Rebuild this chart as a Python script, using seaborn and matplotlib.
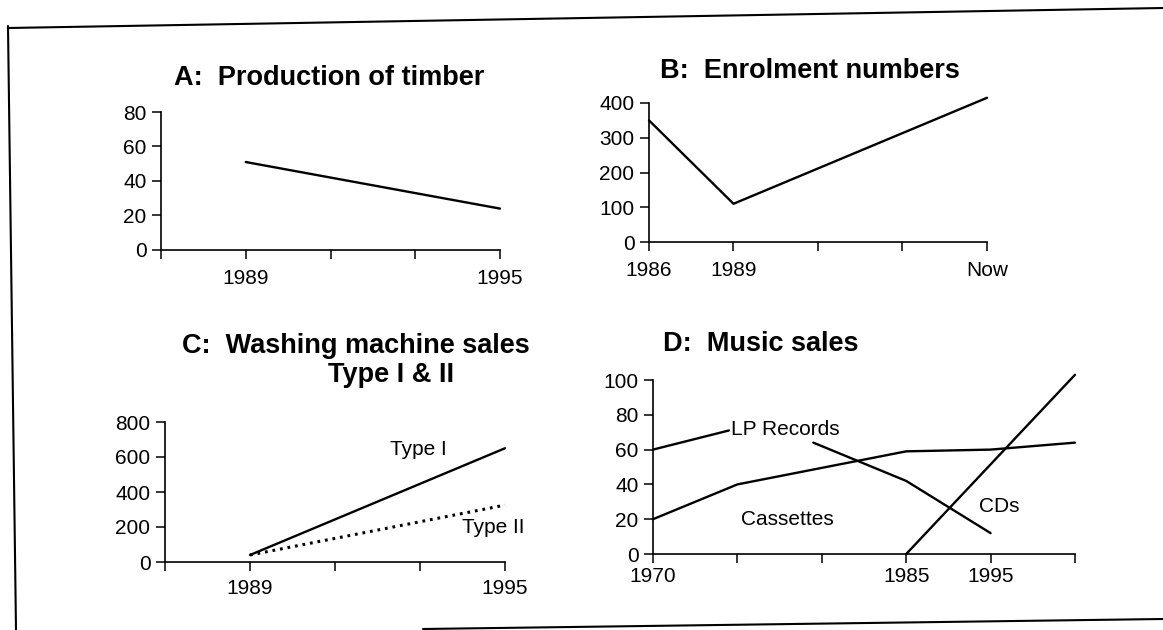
import matplotlib
matplotlib.use("Agg")
import matplotlib.pyplot as plt
import seaborn as sns
from matplotlib.lines import Line2D

# ---------------- data ----------------
# A: Production of timber
a_pos = [1, 4]
a_timber = [51, 24]
a_xticklabels = ["", "1989", "", "", "1995"]
a_yticks = [0, 20, 40, 60, 80]

# B: Enrolment numbers
b_pos = [0, 1, 4]
b_enrol = [350, 110, 415]
b_xticklabels = ["1986", "1989", "", "", "Now"]
b_yticks = [0, 100, 200, 300, 400]

# C: Washing machine sales
c_pos = [1, 4]
c_type1 = [40, 650]
c_type2 = [40, 325]
c_xticklabels = ["", "1989", "", "", "1995"]
c_yticks = [0, 200, 400, 600, 800]

# D: Music sales
d_lp_pos_a = [0, 0.9]
d_lp_a = [60, 71]
d_lp_pos_b = [1.9, 3, 4]
d_lp_b = [64, 42, 12]
d_cas_pos = [0, 1, 2, 3, 4, 5]
d_cassettes = [20, 40, 49.5, 59, 60, 64]
d_cd_pos = [3, 5]
d_cds = [0, 103]
d_xticklabels = ["1970", "", "", "1985", "1995", ""]
d_yticks = [0, 20, 40, 60, 80, 100]

# ---------------- style ----------------
sns.set_style("ticks")
plt.rcParams['font.family'] = ['Liberation Sans', 'DejaVu Sans']
plt.rcParams['text.color'] = 'black'
plt.rcParams['axes.labelcolor'] = 'black'
plt.rcParams['xtick.color'] = 'black'
plt.rcParams['ytick.color'] = 'black'

W, H = 1163, 630
fig = plt.figure(figsize=(W / 100, H / 100), dpi=100)

FS = 15      # regular text
TFS = 19.5   # titles


def rect(x0, y_top, x1, y_bot):
    return [x0 / W, 1 - y_bot / H, (x1 - x0) / W, (y_bot - y_top) / H]


def fx(x, y):
    return x / W, 1 - y / H


def style(ax, xlabels, yticks, xpad):
    n = len(xlabels) - 1
    ax.set_xlim(0, n)
    ax.set_ylim(0, yticks[-1])
    ax.set_xticks(range(n + 1))
    ax.set_xticklabels(xlabels)
    ax.set_yticks(yticks)
    ax.set_xlabel("")
    ax.set_ylabel("")
    for s in ["top", "right"]:
        ax.spines[s].set_visible(False)
    for s in ["left", "bottom"]:
        ax.spines[s].set_linewidth(1.2)
        ax.spines[s].set_color("black")
    ax.tick_params(direction="out", length=6.5, width=1.1, labelsize=FS,
                   colors="black", labelcolor="black")
    ax.tick_params(axis="x", pad=xpad)
    ax.tick_params(axis="y", pad=4)
    ax.patch.set_alpha(0)


LW = 1.7
kw = dict(color="black", linewidth=LW, clip_on=False)

# A
axA = fig.add_axes(rect(161, 112, 500, 250))
sns.lineplot(x=a_pos, y=a_timber, ax=axA, **kw)
style(axA, a_xticklabels, a_yticks, 7)

# B
axB = fig.add_axes(rect(649, 103, 987, 242))
sns.lineplot(x=b_pos, y=b_enrol, ax=axB, **kw)
style(axB, b_xticklabels, b_yticks, 7)

# C
axC = fig.add_axes(rect(165, 422, 505, 562))
sns.lineplot(x=c_pos, y=c_type1, ax=axC, **kw)
sns.lineplot(x=c_pos, y=c_type2, ax=axC, color="black", linewidth=2.2,
             linestyle=(0, (0.9, 1.6)), clip_on=False)
style(axC, c_xticklabels, c_yticks, 6)
axC.text(2.65, 611, "Type I", fontsize=FS, ha="left", va="baseline",
         color="black")
axC.text(3.5, 166, "Type II", fontsize=FS, ha="left", va="baseline",
         color="black")

# D
axD = fig.add_axes(rect(653, 380, 1075, 554))
sns.lineplot(x=d_lp_pos_a, y=d_lp_a, ax=axD, **kw)
sns.lineplot(x=d_lp_pos_b, y=d_lp_b, ax=axD, **kw)
sns.lineplot(x=d_cas_pos, y=d_cassettes, ax=axD, **kw)
sns.lineplot(x=d_cd_pos, y=d_cds, ax=axD, **kw)
style(axD, d_xticklabels, d_yticks, 3)
axD.text(0.93, 68.4, "LP Records", fontsize=FS, ha="left", va="baseline",
         color="black")
axD.text(1.04, 16.7, "Cassettes", fontsize=FS, ha="left", va="baseline",
         color="black")
axD.text(3.86, 24.1, "CDs", fontsize=FS, ha="left", va="baseline",
         color="black")

# titles
tkw = dict(fontsize=TFS, fontweight="bold", ha="left", va="baseline",
           color="black")
fig.text(*fx(174, 85), "A:  Production of timber", **tkw)
fig.text(*fx(660, 78), "B:  Enrolment numbers", **tkw)
fig.text(*fx(182, 353), "C:  Washing machine sales", **tkw)
fig.text(*fx(328, 382), "Type I & II", **tkw)
fig.text(*fx(663, 351), "D:  Music sales", **tkw)

# frame lines of the scanned page
for (x0, y0), (x1, y1) in [((8, 28), (1163, 8)),
                           ((8, 26), (16, 630)),
                           ((423, 629), (1163, 619))]:
    fig.add_artist(Line2D([x0 / W, x1 / W], [1 - y0 / H, 1 - y1 / H],
                          color="black", linewidth=1.5,
                          transform=fig.transFigure))

fig.savefig("out.png", dpi=100)
